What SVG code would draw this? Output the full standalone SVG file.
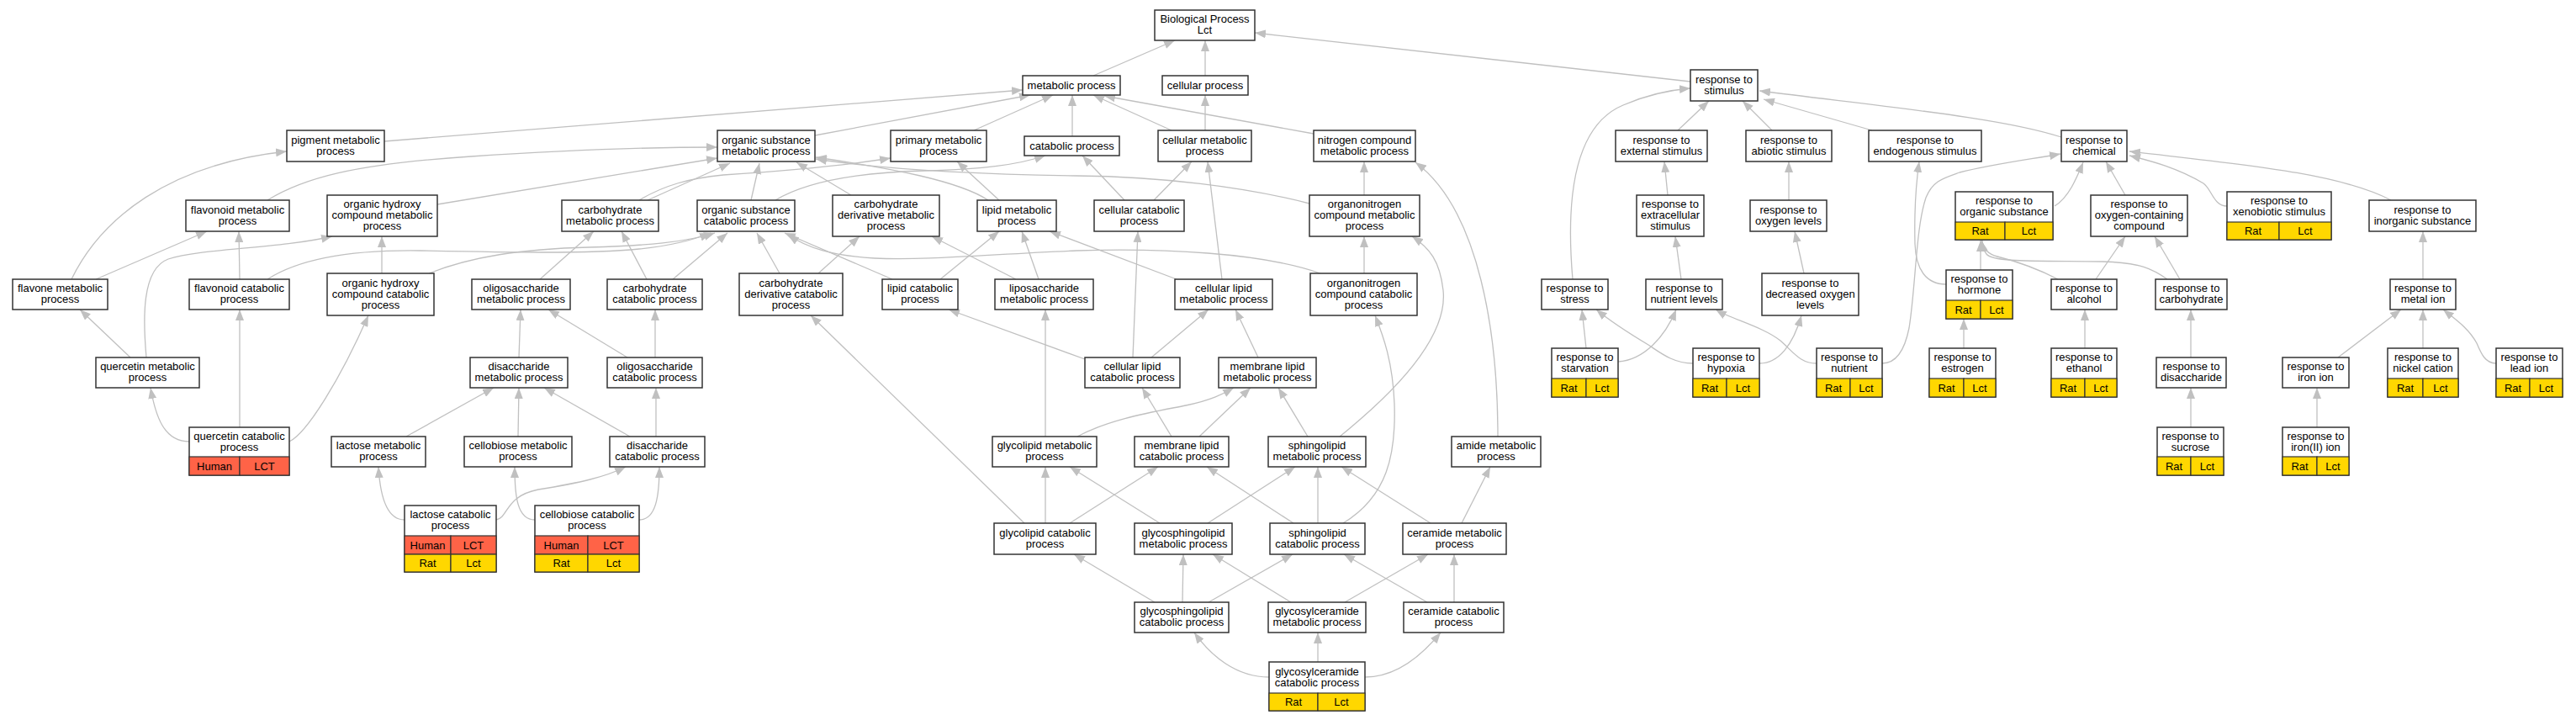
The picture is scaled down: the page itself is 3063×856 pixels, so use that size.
<svg xmlns="http://www.w3.org/2000/svg" width="3063" height="856" viewBox="0 0 3063 856">
<defs>
<style>
.n rect{fill:#fff;stroke:#333;stroke-width:1.5}
.n rect.hum{fill:#ff6347;stroke-width:1.2}
.n rect.rat{fill:#ffd700;stroke-width:1.2}
text{font-family:"Liberation Sans",Arial,sans-serif;font-size:13px;text-anchor:middle;fill:#000}
.e path{fill:none;stroke:#c0c0c0;stroke-width:1.3;marker-end:url(#a)}
</style>
<marker id="a" markerUnits="userSpaceOnUse" viewBox="0 0 14 10" markerWidth="14" markerHeight="10" refX="13" refY="5" orient="auto"><path d="M0,0 L13,5 L0,10 z" fill="#c0c0c0"/></marker>
</defs>
<rect width="3063" height="856" fill="#fff"/>
<g id="edges" class="e">
<path d="M1300,90 L1397,48"/>
<path d="M1433,90 L1433,48"/>
<path d="M2010,97 L1492,39"/>
<path d="M969,161 L1225,113"/>
<path d="M1158,155 L1252,113"/>
<path d="M1275,162 L1275,113"/>
<path d="M1393,155 L1300,113"/>
<path d="M1562,159 L1313,114"/>
<path d="M457,168 L1216,107"/>
<path d="M1433,155 L1433,113"/>
<path d="M318,238 C360,212 420,195 560,186 C680,178 780,175 853,175"/>
<path d="M520,243 L853,188"/>
<path d="M770,238 L868,194"/>
<path d="M760,238 C790,220 820,212 860,208 C950,202 1010,196 1059,188"/>
<path d="M893,238 L903,194"/>
<path d="M922,238 C960,215 1020,205 1100,203 C1170,201 1210,196 1243,185"/>
<path d="M1012,232 L947,193"/>
<path d="M1188,238 L1138,192"/>
<path d="M1175,238 C1140,215 1060,200 970,187"/>
<path d="M1557,242 C1480,222 1380,210 1280,209 C1150,207 1040,200 970,189"/>
<path d="M1337,238 L1287,185"/>
<path d="M1372,238 L1417,192"/>
<path d="M1622,232 L1622,192"/>
<path d="M85,332 C120,260 200,195 341,180"/>
<path d="M114,332 L246,275"/>
<path d="M285,332 L284,275"/>
<path d="M318,332 C360,305 430,297 500,298 C600,300 700,302 760,296 C800,292 825,285 845,277"/>
<path d="M510,325 C560,305 620,296 700,294 C770,292 815,288 850,277"/>
<path d="M454,325 L454,281"/>
<path d="M642,332 L706,275"/>
<path d="M769,332 L739,275"/>
<path d="M800,332 L865,277"/>
<path d="M927,325 L900,277"/>
<path d="M973,325 L1022,281"/>
<path d="M1118,332 L1188,275"/>
<path d="M1061,332 L933,277"/>
<path d="M1235,332 L1215,275"/>
<path d="M1208,332 L1108,281"/>
<path d="M1399,332 L1248,275"/>
<path d="M1453,332 L1436,192"/>
<path d="M1622,325 L1622,281"/>
<path d="M1570,325 C1500,300 1380,295 1280,298 C1180,302 1100,310 1040,307 C990,304 960,295 937,279"/>
<path d="M155,425 L95,368"/>
<path d="M174,425 C170,380 168,320 200,308 C240,295 330,296 395,281"/>
<path d="M225,525 C195,525 185,495 179,461"/>
<path d="M285,508 L285,368"/>
<path d="M344,525 C365,515 405,450 438,375"/>
<path d="M617,425 L619,368"/>
<path d="M746,425 L652,368"/>
<path d="M779,425 L779,368"/>
<path d="M749,519 L647,461"/>
<path d="M780,519 L780,461"/>
<path d="M483,519 L587,461"/>
<path d="M616,519 L617,461"/>
<path d="M481,618 C460,618 452,590 450,555"/>
<path d="M590,618 C605,615 600,590 640,582 C690,574 720,567 744,555"/>
<path d="M636,618 C615,618 612,590 612,555"/>
<path d="M760,618 C780,618 784,590 784,555"/>
<path d="M1218,622 L964,375"/>
<path d="M1290,427 L1128,368"/>
<path d="M1347,425 L1353,275"/>
<path d="M1369,425 L1437,368"/>
<path d="M1496,425 L1469,368"/>
<path d="M1243,519 L1243,368"/>
<path d="M1281,519 C1320,498 1370,490 1410,482 C1440,476 1455,468 1467,461"/>
<path d="M1393,519 L1358,461"/>
<path d="M1426,519 L1487,461"/>
<path d="M1555,519 L1520,461"/>
<path d="M1593,519 C1660,465 1722,400 1716,345 C1712,310 1700,295 1679,281"/>
<path d="M1781,519 C1781,400 1760,250 1683,193"/>
<path d="M1597,622 C1650,590 1660,540 1658,480 C1656,430 1645,400 1635,375"/>
<path d="M1243,622 L1243,555"/>
<path d="M1272,622 L1377,555"/>
<path d="M1379,622 L1272,555"/>
<path d="M1436,622 L1540,555"/>
<path d="M1538,622 L1435,555"/>
<path d="M1567,622 L1567,555"/>
<path d="M1701,622 L1595,555"/>
<path d="M1738,622 L1772,555"/>
<path d="M1373,716 L1277,659"/>
<path d="M1406,716 L1407,659"/>
<path d="M1437,716 L1537,659"/>
<path d="M1535,716 L1442,659"/>
<path d="M1599,716 L1698,659"/>
<path d="M1697,716 L1598,659"/>
<path d="M1729,716 L1729,659"/>
<path d="M1509,805 C1470,805 1440,780 1420,752"/>
<path d="M1567,787 L1567,752"/>
<path d="M1623,805 C1660,805 1690,780 1713,752"/>
<path d="M1995,155 L2032,120"/>
<path d="M2107,155 L2072,120"/>
<path d="M2226,155 L2097,118"/>
<path d="M2451,163 C2380,140 2250,128 2092,108"/>
<path d="M1870,332 C1862,240 1870,150 1930,125 C1960,112 1985,107 2010,105"/>
<path d="M1983,232 L1979,192"/>
<path d="M2127,238 L2127,192"/>
<path d="M1999,332 L1992,281"/>
<path d="M2145,325 L2134,275"/>
<path d="M1886,414 L1881,368"/>
<path d="M1924,430 C1955,428 1980,400 1993,368"/>
<path d="M2013,432 C1990,432 1975,420 1960,410 C1935,395 1915,382 1898,368"/>
<path d="M2092,432 C2115,432 2132,410 2142,375"/>
<path d="M2160,432 C2140,432 2132,418 2117,405 C2095,388 2060,380 2040,368"/>
<path d="M2238,432 C2255,432 2265,415 2270,390 C2278,340 2278,270 2290,235 C2298,215 2310,212 2330,205 C2370,195 2410,190 2450,183"/>
<path d="M2314,338 C2290,338 2278,320 2277,290 C2276,250 2278,220 2282,192"/>
<path d="M2443,245 C2460,235 2470,210 2477,193"/>
<path d="M2527,232 L2504,192"/>
<path d="M2648,245 C2632,245 2630,225 2620,218 C2590,200 2560,192 2532,185"/>
<path d="M2843,238 C2780,205 2660,195 2532,180"/>
<path d="M2492,332 L2527,281"/>
<path d="M2592,332 L2562,281"/>
<path d="M2355,321 L2355,286"/>
<path d="M2447,332 C2420,318 2395,310 2375,305 C2363,302 2358,295 2356,286"/>
<path d="M2577,332 C2560,320 2545,312 2500,311 C2420,310 2370,312 2362,302 C2358,297 2357,292 2357,286"/>
<path d="M2881,332 L2881,275"/>
<path d="M2335,414 L2335,379"/>
<path d="M2479,414 L2479,368"/>
<path d="M2605,425 L2605,368"/>
<path d="M2780,425 L2855,368"/>
<path d="M2881,414 L2881,368"/>
<path d="M2968,432 C2955,432 2950,420 2945,408 C2935,390 2920,380 2905,368"/>
<path d="M2605,508 L2605,461"/>
<path d="M2755,508 L2755,461"/>
</g>
<g id="n-bp" class="n"><rect x="1373" y="12" width="119" height="36"/><text x="1432.5" y="27">Biological Process</text><text x="1432.5" y="40">Lct</text></g>
<g id="n-metabolic" class="n"><rect x="1216" y="90" width="116" height="23"/><text x="1274" y="105.5">metabolic process</text></g>
<g id="n-cellularproc" class="n"><rect x="1382" y="90" width="102" height="23"/><text x="1433" y="105.5">cellular process</text></g>
<g id="n-stimulus" class="n"><rect x="2010" y="83" width="80" height="37"/><text x="2050" y="98.5">response to</text><text x="2050" y="111.5">stimulus</text></g>
<g id="n-pigment" class="n"><rect x="341" y="155" width="116" height="37"/><text x="399" y="170.5">pigment metabolic</text><text x="399" y="183.5">process</text></g>
<g id="n-osm" class="n"><rect x="853" y="155" width="116" height="37"/><text x="911" y="170.5">organic substance</text><text x="911" y="183.5">metabolic process</text></g>
<g id="n-primary" class="n"><rect x="1059" y="155" width="114" height="37"/><text x="1116" y="170.5">primary metabolic</text><text x="1116" y="183.5">process</text></g>
<g id="n-catabolic" class="n"><rect x="1218" y="162" width="113" height="23"/><text x="1274.5" y="177.5">catabolic process</text></g>
<g id="n-cellmet" class="n"><rect x="1377" y="155" width="111" height="37"/><text x="1432.5" y="170.5">cellular metabolic</text><text x="1432.5" y="183.5">process</text></g>
<g id="n-ncm" class="n"><rect x="1562" y="155" width="121" height="37"/><text x="1622.5" y="170.5">nitrogen compound</text><text x="1622.5" y="183.5">metabolic process</text></g>
<g id="n-external" class="n"><rect x="1921" y="155" width="109" height="37"/><text x="1975.5" y="170.5">response to</text><text x="1975.5" y="183.5">external stimulus</text></g>
<g id="n-abiotic" class="n"><rect x="2076" y="155" width="102" height="37"/><text x="2127" y="170.5">response to</text><text x="2127" y="183.5">abiotic stimulus</text></g>
<g id="n-endogenous" class="n"><rect x="2222" y="155" width="134" height="37"/><text x="2289" y="170.5">response to</text><text x="2289" y="183.5">endogenous stimulus</text></g>
<g id="n-chemical" class="n"><rect x="2451" y="155" width="78" height="37"/><text x="2490" y="170.5">response to</text><text x="2490" y="183.5">chemical</text></g>
<g id="n-flavonoidmet" class="n"><rect x="221" y="238" width="123" height="37"/><text x="282.5" y="253.5">flavonoid metabolic</text><text x="282.5" y="266.5">process</text></g>
<g id="n-ohcm" class="n"><rect x="389" y="232" width="131" height="49"/><text x="454.5" y="247">organic hydroxy</text><text x="454.5" y="260">compound metabolic</text><text x="454.5" y="273">process</text></g>
<g id="n-carbmet" class="n"><rect x="668" y="238" width="115" height="37"/><text x="725.5" y="253.5">carbohydrate</text><text x="725.5" y="266.5">metabolic process</text></g>
<g id="n-osc" class="n"><rect x="829" y="238" width="116" height="37"/><text x="887" y="253.5">organic substance</text><text x="887" y="266.5">catabolic process</text></g>
<g id="n-cdm" class="n"><rect x="990" y="232" width="127" height="49"/><text x="1053.5" y="247">carbohydrate</text><text x="1053.5" y="260">derivative metabolic</text><text x="1053.5" y="273">process</text></g>
<g id="n-lipidmet" class="n"><rect x="1162" y="238" width="94" height="37"/><text x="1209" y="253.5">lipid metabolic</text><text x="1209" y="266.5">process</text></g>
<g id="n-cellcat" class="n"><rect x="1301" y="238" width="107" height="37"/><text x="1354.5" y="253.5">cellular catabolic</text><text x="1354.5" y="266.5">process</text></g>
<g id="n-onm" class="n"><rect x="1557" y="232" width="131" height="49"/><text x="1622.5" y="247">organonitrogen</text><text x="1622.5" y="260">compound metabolic</text><text x="1622.5" y="273">process</text></g>
<g id="n-extracellular" class="n"><rect x="1946" y="232" width="80" height="49"/><text x="1986" y="247">response to</text><text x="1986" y="260">extracellular</text><text x="1986" y="273">stimulus</text></g>
<g id="n-oxygenlevels" class="n"><rect x="2081" y="238" width="91" height="37"/><text x="2126.5" y="253.5">response to</text><text x="2126.5" y="266.5">oxygen levels</text></g>
<g id="n-organicsub" class="n"><rect x="2325" y="228" width="116" height="57"/><rect class="rat" x="2325" y="264" width="59" height="21"/><rect class="rat" x="2384" y="264" width="57" height="21"/><text x="2383" y="243">response to</text><text x="2383" y="256">organic substance</text><text x="2354.5" y="279">Rat</text><text x="2412.5" y="279">Lct</text></g>
<g id="n-oxygencontaining" class="n"><rect x="2486" y="232" width="115" height="49"/><text x="2543.5" y="247">response to</text><text x="2543.5" y="260">oxygen-containing</text><text x="2543.5" y="273">compound</text></g>
<g id="n-xenobiotic" class="n"><rect x="2648" y="228" width="124" height="57"/><rect class="rat" x="2648" y="264" width="62" height="21"/><rect class="rat" x="2710" y="264" width="62" height="21"/><text x="2710" y="243">response to</text><text x="2710" y="256">xenobiotic stimulus</text><text x="2679" y="279">Rat</text><text x="2741" y="279">Lct</text></g>
<g id="n-inorganic" class="n"><rect x="2817" y="238" width="127" height="37"/><text x="2880.5" y="253.5">response to</text><text x="2880.5" y="266.5">inorganic substance</text></g>
<g id="n-flavone" class="n"><rect x="15" y="332" width="113" height="36"/><text x="71.5" y="347">flavone metabolic</text><text x="71.5" y="360">process</text></g>
<g id="n-flavonoidcat" class="n"><rect x="225" y="332" width="119" height="36"/><text x="284.5" y="347">flavonoid catabolic</text><text x="284.5" y="360">process</text></g>
<g id="n-ohcc" class="n"><rect x="389" y="325" width="127" height="50"/><text x="452.5" y="340.5">organic hydroxy</text><text x="452.5" y="353.5">compound catabolic</text><text x="452.5" y="366.5">process</text></g>
<g id="n-oligomet" class="n"><rect x="561" y="332" width="117" height="36"/><text x="619.5" y="347">oligosaccharide</text><text x="619.5" y="360">metabolic process</text></g>
<g id="n-carbcat" class="n"><rect x="722" y="332" width="113" height="36"/><text x="778.5" y="347">carbohydrate</text><text x="778.5" y="360">catabolic process</text></g>
<g id="n-cdc" class="n"><rect x="879" y="325" width="123" height="50"/><text x="940.5" y="340.5">carbohydrate</text><text x="940.5" y="353.5">derivative catabolic</text><text x="940.5" y="366.5">process</text></g>
<g id="n-lipidcat" class="n"><rect x="1049" y="332" width="90" height="36"/><text x="1094" y="347">lipid catabolic</text><text x="1094" y="360">process</text></g>
<g id="n-liposacch" class="n"><rect x="1183" y="332" width="117" height="36"/><text x="1241.5" y="347">liposaccharide</text><text x="1241.5" y="360">metabolic process</text></g>
<g id="n-celllipidmet" class="n"><rect x="1397" y="332" width="116" height="36"/><text x="1455" y="347">cellular lipid</text><text x="1455" y="360">metabolic process</text></g>
<g id="n-onc" class="n"><rect x="1558" y="325" width="127" height="50"/><text x="1621.5" y="340.5">organonitrogen</text><text x="1621.5" y="353.5">compound catabolic</text><text x="1621.5" y="366.5">process</text></g>
<g id="n-stress" class="n"><rect x="1833" y="332" width="79" height="36"/><text x="1872.5" y="347">response to</text><text x="1872.5" y="360">stress</text></g>
<g id="n-nutrientlevels" class="n"><rect x="1957" y="332" width="91" height="36"/><text x="2002.5" y="347">response to</text><text x="2002.5" y="360">nutrient levels</text></g>
<g id="n-decreasedoxygen" class="n"><rect x="2095" y="325" width="115" height="50"/><text x="2152.5" y="340.5">response to</text><text x="2152.5" y="353.5">decreased oxygen</text><text x="2152.5" y="366.5">levels</text></g>
<g id="n-hormone" class="n"><rect x="2314" y="321" width="79" height="58"/><rect class="rat" x="2314" y="357" width="41" height="22"/><rect class="rat" x="2355" y="357" width="38" height="22"/><text x="2353.5" y="336">response to</text><text x="2353.5" y="349">hormone</text><text x="2334.5" y="372.5">Rat</text><text x="2374" y="372.5">Lct</text></g>
<g id="n-alcohol" class="n"><rect x="2439" y="332" width="78" height="36"/><text x="2478" y="347">response to</text><text x="2478" y="360">alcohol</text></g>
<g id="n-carbresp" class="n"><rect x="2563" y="332" width="85" height="36"/><text x="2605.5" y="347">response to</text><text x="2605.5" y="360">carbohydrate</text></g>
<g id="n-metalion" class="n"><rect x="2842" y="332" width="78" height="36"/><text x="2881" y="347">response to</text><text x="2881" y="360">metal ion</text></g>
<g id="n-quercetinmet" class="n"><rect x="114" y="425" width="123" height="36"/><text x="175.5" y="440">quercetin metabolic</text><text x="175.5" y="453">process</text></g>
<g id="n-disaccmet" class="n"><rect x="559" y="425" width="116" height="36"/><text x="617" y="440">disaccharide</text><text x="617" y="453">metabolic process</text></g>
<g id="n-oligocat" class="n"><rect x="722" y="425" width="113" height="36"/><text x="778.5" y="440">oligosaccharide</text><text x="778.5" y="453">catabolic process</text></g>
<g id="n-celllipidcat" class="n"><rect x="1290" y="425" width="113" height="36"/><text x="1346.5" y="440">cellular lipid</text><text x="1346.5" y="453">catabolic process</text></g>
<g id="n-membranelipidmet" class="n"><rect x="1449" y="425" width="116" height="36"/><text x="1507" y="440">membrane lipid</text><text x="1507" y="453">metabolic process</text></g>
<g id="n-starvation" class="n"><rect x="1845" y="414" width="79" height="58"/><rect class="rat" x="1845" y="450" width="41" height="22"/><rect class="rat" x="1886" y="450" width="38" height="22"/><text x="1884.5" y="429">response to</text><text x="1884.5" y="442">starvation</text><text x="1865.5" y="465.5">Rat</text><text x="1905" y="465.5">Lct</text></g>
<g id="n-hypoxia" class="n"><rect x="2013" y="414" width="79" height="58"/><rect class="rat" x="2013" y="450" width="40" height="22"/><rect class="rat" x="2053" y="450" width="39" height="22"/><text x="2052.5" y="429">response to</text><text x="2052.5" y="442">hypoxia</text><text x="2033" y="465.5">Rat</text><text x="2072.5" y="465.5">Lct</text></g>
<g id="n-nutrient" class="n"><rect x="2160" y="414" width="78" height="58"/><rect class="rat" x="2160" y="450" width="40" height="22"/><rect class="rat" x="2200" y="450" width="38" height="22"/><text x="2199" y="429">response to</text><text x="2199" y="442">nutrient</text><text x="2180" y="465.5">Rat</text><text x="2219" y="465.5">Lct</text></g>
<g id="n-estrogen" class="n"><rect x="2294" y="414" width="79" height="58"/><rect class="rat" x="2294" y="450" width="41" height="22"/><rect class="rat" x="2335" y="450" width="38" height="22"/><text x="2333.5" y="429">response to</text><text x="2333.5" y="442">estrogen</text><text x="2314.5" y="465.5">Rat</text><text x="2354" y="465.5">Lct</text></g>
<g id="n-ethanol" class="n"><rect x="2439" y="414" width="78" height="58"/><rect class="rat" x="2439" y="450" width="40" height="22"/><rect class="rat" x="2479" y="450" width="38" height="22"/><text x="2478" y="429">response to</text><text x="2478" y="442">ethanol</text><text x="2459" y="465.5">Rat</text><text x="2498" y="465.5">Lct</text></g>
<g id="n-disaccresp" class="n"><rect x="2564" y="425" width="83" height="36"/><text x="2605.5" y="440">response to</text><text x="2605.5" y="453">disaccharide</text></g>
<g id="n-ironion" class="n"><rect x="2714" y="425" width="79" height="36"/><text x="2753.5" y="440">response to</text><text x="2753.5" y="453">iron ion</text></g>
<g id="n-nickel" class="n"><rect x="2839" y="414" width="84" height="58"/><rect class="rat" x="2839" y="450" width="42" height="22"/><rect class="rat" x="2881" y="450" width="42" height="22"/><text x="2881" y="429">response to</text><text x="2881" y="442">nickel cation</text><text x="2860" y="465.5">Rat</text><text x="2902" y="465.5">Lct</text></g>
<g id="n-lead" class="n"><rect x="2968" y="414" width="79" height="58"/><rect class="rat" x="2968" y="450" width="40" height="22"/><rect class="rat" x="3008" y="450" width="39" height="22"/><text x="3007.5" y="429">response to</text><text x="3007.5" y="442">lead ion</text><text x="2988" y="465.5">Rat</text><text x="3027.5" y="465.5">Lct</text></g>
<g id="n-quercetincat" class="n"><rect x="225" y="508" width="119" height="57"/><rect class="hum" x="225" y="543" width="60" height="22"/><rect class="hum" x="285" y="543" width="59" height="22"/><text x="284.5" y="522.5">quercetin catabolic</text><text x="284.5" y="535.5">process</text><text x="255" y="558.5">Human</text><text x="314.5" y="558.5">LCT</text></g>
<g id="n-lactosemet" class="n"><rect x="394" y="519" width="112" height="36"/><text x="450" y="534">lactose metabolic</text><text x="450" y="547">process</text></g>
<g id="n-cellobiosemet" class="n"><rect x="552" y="519" width="128" height="36"/><text x="616" y="534">cellobiose metabolic</text><text x="616" y="547">process</text></g>
<g id="n-disacccat" class="n"><rect x="725" y="519" width="113" height="36"/><text x="781.5" y="534">disaccharide</text><text x="781.5" y="547">catabolic process</text></g>
<g id="n-glycolipidmet" class="n"><rect x="1180" y="519" width="124" height="36"/><text x="1242" y="534">glycolipid metabolic</text><text x="1242" y="547">process</text></g>
<g id="n-membranelipidcat" class="n"><rect x="1349" y="519" width="112" height="36"/><text x="1405" y="534">membrane lipid</text><text x="1405" y="547">catabolic process</text></g>
<g id="n-sphingolipidmet" class="n"><rect x="1508" y="519" width="116" height="36"/><text x="1566" y="534">sphingolipid</text><text x="1566" y="547">metabolic process</text></g>
<g id="n-amide" class="n"><rect x="1726" y="519" width="106" height="36"/><text x="1779" y="534">amide metabolic</text><text x="1779" y="547">process</text></g>
<g id="n-sucrose" class="n"><rect x="2565" y="508" width="79" height="57"/><rect class="rat" x="2565" y="543" width="40" height="22"/><rect class="rat" x="2605" y="543" width="39" height="22"/><text x="2604.5" y="522.5">response to</text><text x="2604.5" y="535.5">sucrose</text><text x="2585" y="558.5">Rat</text><text x="2624.5" y="558.5">Lct</text></g>
<g id="n-iron2" class="n"><rect x="2714" y="508" width="79" height="57"/><rect class="rat" x="2714" y="543" width="41" height="22"/><rect class="rat" x="2755" y="543" width="38" height="22"/><text x="2753.5" y="522.5">response to</text><text x="2753.5" y="535.5">iron(II) ion</text><text x="2734.5" y="558.5">Rat</text><text x="2774" y="558.5">Lct</text></g>
<g id="n-lactosecat" class="n"><rect x="481" y="601" width="109" height="79"/><rect class="hum" x="481" y="637" width="55" height="22"/><rect class="hum" x="536" y="637" width="54" height="22"/><rect class="rat" x="481" y="659" width="55" height="21"/><rect class="rat" x="536" y="659" width="54" height="21"/><text x="535.5" y="616">lactose catabolic</text><text x="535.5" y="629">process</text><text x="508.5" y="652.5">Human</text><text x="563" y="652.5">LCT</text><text x="508.5" y="674">Rat</text><text x="563" y="674">Lct</text></g>
<g id="n-cellobiosecat" class="n"><rect x="636" y="601" width="124" height="79"/><rect class="hum" x="636" y="637" width="63" height="22"/><rect class="hum" x="699" y="637" width="61" height="22"/><rect class="rat" x="636" y="659" width="63" height="21"/><rect class="rat" x="699" y="659" width="61" height="21"/><text x="698" y="616">cellobiose catabolic</text><text x="698" y="629">process</text><text x="667.5" y="652.5">Human</text><text x="729.5" y="652.5">LCT</text><text x="667.5" y="674">Rat</text><text x="729.5" y="674">Lct</text></g>
<g id="n-glycolipidcat" class="n"><rect x="1182" y="622" width="121" height="37"/><text x="1242.5" y="637.5">glycolipid catabolic</text><text x="1242.5" y="650.5">process</text></g>
<g id="n-gslmet" class="n"><rect x="1349" y="622" width="116" height="37"/><text x="1407" y="637.5">glycosphingolipid</text><text x="1407" y="650.5">metabolic process</text></g>
<g id="n-sphingolipidcat" class="n"><rect x="1510" y="622" width="113" height="37"/><text x="1566.5" y="637.5">sphingolipid</text><text x="1566.5" y="650.5">catabolic process</text></g>
<g id="n-ceramidemet" class="n"><rect x="1668" y="622" width="123" height="37"/><text x="1729.5" y="637.5">ceramide metabolic</text><text x="1729.5" y="650.5">process</text></g>
<g id="n-gslcat" class="n"><rect x="1349" y="716" width="112" height="36"/><text x="1405" y="731">glycosphingolipid</text><text x="1405" y="744">catabolic process</text></g>
<g id="n-gcmet" class="n"><rect x="1508" y="716" width="116" height="36"/><text x="1566" y="731">glycosylceramide</text><text x="1566" y="744">metabolic process</text></g>
<g id="n-ceramidecat" class="n"><rect x="1669" y="716" width="119" height="36"/><text x="1728.5" y="731">ceramide catabolic</text><text x="1728.5" y="744">process</text></g>
<g id="n-gccat" class="n"><rect x="1509" y="787" width="114" height="58"/><rect class="rat" x="1509" y="824" width="58" height="21"/><rect class="rat" x="1567" y="824" width="56" height="21"/><text x="1566" y="802.5">glycosylceramide</text><text x="1566" y="815.5">catabolic process</text><text x="1538" y="839">Rat</text><text x="1595" y="839">Lct</text></g>
</svg>
